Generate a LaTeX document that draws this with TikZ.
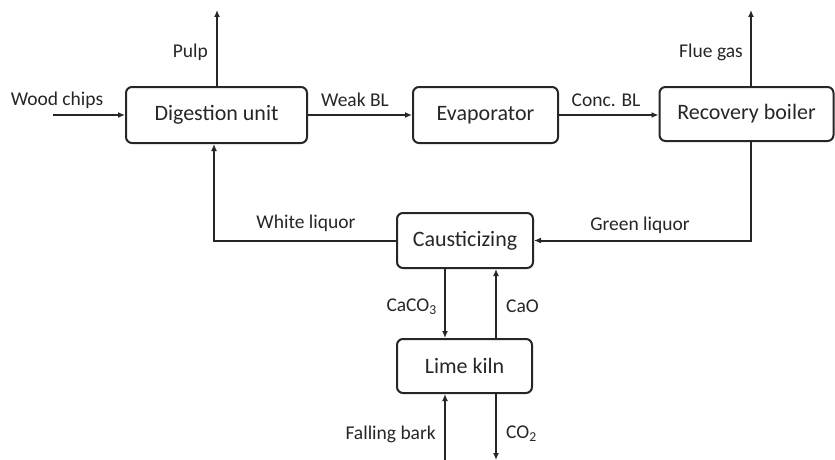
\documentclass[tikz,border=0pt]{standalone}
\usepackage{fontspec}
\setmainfont{Carlito}
\usetikzlibrary{arrows.meta}
\begin{document}
\begin{tikzpicture}[x=1pt,y=-1pt,
  box/.style={draw=black!85, line width=2pt, rounded corners=6pt, inner sep=0pt, font=\fontsize{22}{26}\selectfont, text=black!85},
  flow/.style={draw=black!85, line width=2pt, -{Latex[length=7pt,width=6pt]}},
  lbl/.style={font=\fontsize{19.5}{22}\selectfont, text=black!85, inner sep=0pt}]
\useasboundingbox (0,0) rectangle (835,460);
\node[box, minimum width=181pt, minimum height=56pt] (dig) at (216.5,115) {Digestion unit};
\node[box, minimum width=145pt, minimum height=56pt] (eva) at (485.5,115) {Evaporator};
\node[box, minimum width=174pt, minimum height=54pt] (rec) at (746.5,114) {Recovery boiler};
\node[box, minimum width=136pt, minimum height=55pt] (cau) at (465,240.5) {Causticizing};
\node[box, minimum width=135pt, minimum height=54pt] (lim) at (464.5,366) {Lime kiln};
\coordinate (wc) at (53,115);
\coordinate (pu) at (217,10);
\coordinate (fg) at (751,10);
\coordinate (fb) at (445,460);
\coordinate (co) at (496,460);
\draw[flow] (wc) -- (dig.west);
\draw[flow] (dig.north -| pu) -- (pu);
\draw[flow] (dig.east) -- (eva.west);
\draw[flow] (eva.east) -- (eva.east -| rec.west);
\draw[flow] (rec.north -| fg) -- (fg);
\draw[flow] (rec.south -| fg) |- (cau.east);
\draw[flow] (cau.west) -| (dig.south -| 214,0);
\draw[flow] (cau.south -| 445,0) -- (lim.north -| 445,0);
\draw[flow] (lim.north -| 496,0) -- (cau.south -| 496,0);
\draw[flow] (fb) -- (lim.south -| fb);
\draw[flow] (lim.south -| co) -- (co);
\node[lbl] (l1) at (57,100) {Wood chips};
\node[lbl, anchor=east] (l2) at (208,52) {Pulp};
\node[lbl] (l3) at (355,100) {Weak BL};
\node[lbl] (l4) at (606,100) {Conc. BL};
\node[lbl, anchor=east] (l5) at (743,52) {Flue gas};
\node[lbl] (l6) at (640,225) {Green liquor};
\node[lbl] (l7) at (306,223) {White liquor};
\node[lbl, anchor=east] (l8) at (437,307) {CaCO\textsubscript{3}};
\node[lbl, anchor=west] (l9) at (506,306) {CaO};
\node[lbl, anchor=east] (l10) at (436,434) {Falling bark};
\node[lbl, anchor=west] (l11) at (506,434) {CO\textsubscript{2}};
\end{tikzpicture}
\end{document}
